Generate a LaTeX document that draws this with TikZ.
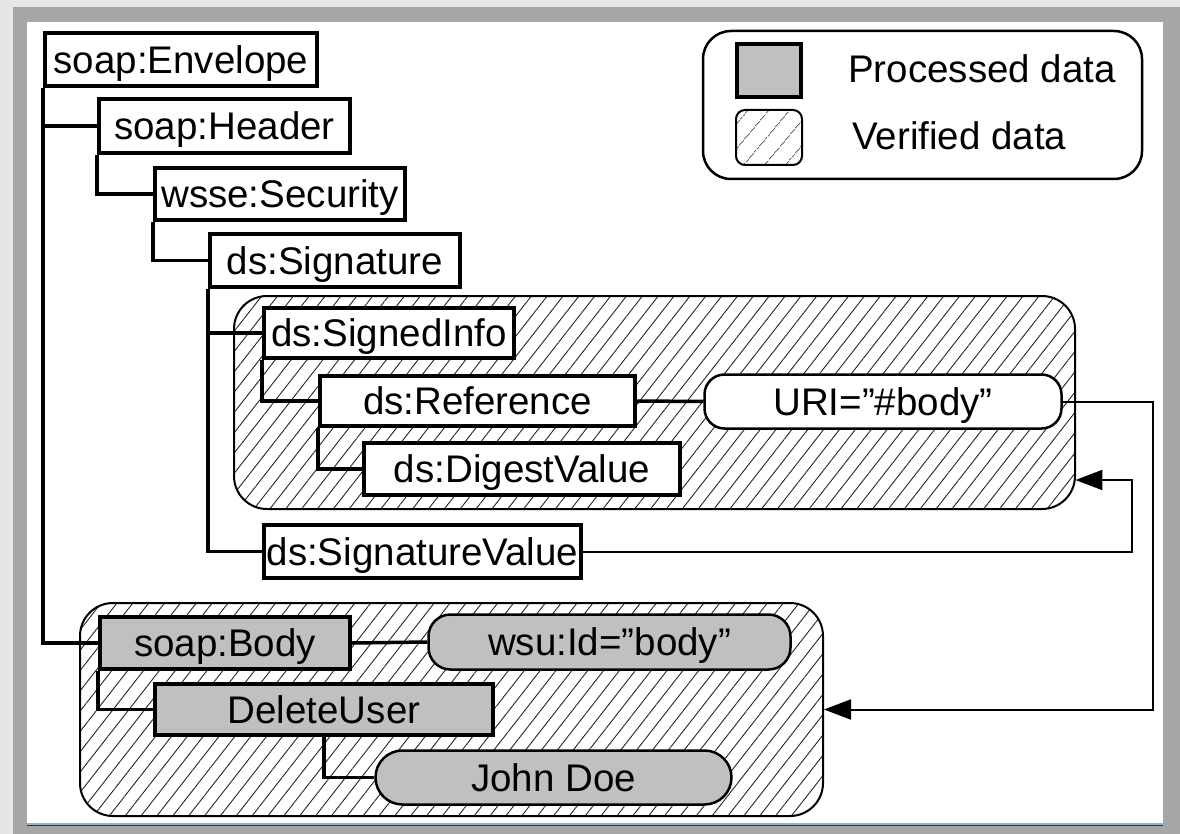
\documentclass[tikz,border=0pt]{standalone}
\usepackage{fontspec}
\setmainfont{Liberation Sans}
\usetikzlibrary{arrows.meta,patterns.meta}
\definecolor{procgray}{HTML}{C0C0C0}
\definecolor{framedark}{HTML}{A6A6A6}
\definecolor{framelight}{HTML}{E6E6E6}
\definecolor{rulerblue}{HTML}{8DB4D6}

\begin{document}
\begin{tikzpicture}[x=1pt,y=-1pt,
  txt/.style={font=\fontsize{38.5}{42}\selectfont},
  lbl/.style={txt, text height=27.5pt, text depth=0pt},
  elem/.style={draw, line width=4pt, fill=white, inner sep=0pt, lbl},
  proc/.style={elem, fill=procgray},
  attr/.style={draw, line width=2.5pt, rounded corners=20pt, fill=white, inner sep=0pt, lbl},
  zone/.style={draw, line width=2pt, rounded corners=33pt, inner sep=0pt,
    pattern={Lines[angle=52,distance=12.5pt,line width=0.9pt]}, pattern color=black!85},
  tree/.style={line width=3.5pt},
  link/.style={line width=2pt, -{Triangle[length=27pt,width=20pt]}},
]
\useasboundingbox (0,0) rectangle (1180,834);

% page frame
\fill[framelight] (0,0) rectangle (1180,834);
\fill[framedark] (13,7) rectangle (1180,834);
\fill[white] (27,22) rectangle (1163,823);
\draw[rulerblue, line width=1.5pt] (27,823.8) -- (1163,823.8);
\draw[black!80, line width=1.2pt] (27,825.6) -- (1163,825.6);

% legend
\node[draw, line width=2.5pt, rounded corners=28pt, minimum width=439pt, minimum height=148pt] (leg) at (922.5,105) {};
\node[draw, line width=4pt, fill=procgray, inner sep=0pt, minimum width=64pt, minimum height=53pt] (legproc) at (769,70.5) {};
\node[draw, line width=2pt, rounded corners=9pt, inner sep=0pt, minimum width=66pt, minimum height=55pt,
  pattern={Lines[angle=50,distance=17pt,line width=0.8pt]}, pattern color=black!70] (legver) at (769,137.5) {};
\node[txt, anchor=base west, inner sep=0pt] (legproctxt) at (848,83) {Processed data};
\node[txt, anchor=base west, inner sep=0pt] (legvertxt) at (852,150) {Verified data};

% verified regions
\node[zone, minimum width=841pt, minimum height=213pt] (sreg) at (654.5,402.5) {};
\node[zone, minimum width=743pt, minimum height=213pt] (breg) at (451.5,709.5) {};

% header elements
\node[elem, minimum width=272pt, minimum height=53pt] (env) at (181,59.5) {soap:Envelope};
\node[elem, minimum width=251pt, minimum height=54pt] (hdr) at (224.5,126) {soap:Header};
\node[elem, minimum width=250pt, minimum height=52pt] (sec) at (280,194) {wsse:Security};
\node[elem, minimum width=250pt, minimum height=53pt] (sig) at (335,260.5) {ds:Signature};
\node[elem, minimum width=250pt, minimum height=50pt] (sinfo) at (389,333) {ds:SignedInfo};
\node[elem, minimum width=315pt, minimum height=50pt] (ref) at (477.5,401) {ds:Reference};
\node[elem, minimum width=316pt, minimum height=52pt] (dig) at (522,469) {ds:DigestValue};
\node[elem, minimum width=317pt, minimum height=53pt] (sigval) at (422.5,551.5) {ds:SignatureValue};
\node[attr, minimum width=357pt, minimum height=54pt] (uri) at (883,401.5) {URI=”\#body”};

% body elements
\node[proc, minimum width=250pt, minimum height=52pt] (body) at (225,643) {soap:Body};
\node[proc, minimum width=338pt, minimum height=51pt] (del) at (324,709.5) {DeleteUser};
\node[attr, fill=procgray, rounded corners=22pt, minimum width=362pt, minimum height=55pt] (wsu) at (609.5,642) {wsu:Id=”body”};
\node[attr, fill=procgray, rounded corners=27pt, minimum width=356pt, minimum height=54pt] (john) at (553.5,777.5) {John Doe};

% tree structure
\draw[tree] (env.south west) |- (hdr.west);
\draw[tree] (env.south west) |- (body.west);
\draw[tree] (hdr.south west) |- (sec.west);
\draw[tree] (sec.south west) |- (sig.west);
\draw[tree] (sig.south west) |- (sinfo.west);
\draw[tree] (sig.south west) |- (sigval.west);
\draw[tree] (sinfo.south west) |- (ref.west);
\draw[tree] (ref.south west) |- (dig.west);
\draw[tree] (ref.east) -- (uri.west);
\draw[tree] (body.south west) |- (del.west);
\draw[tree] (body.east) -- (wsu.west);
\draw[tree] (del.south) |- (john.west);

% reference links
\coordinate (routeA) at (1153,402);
\coordinate (routeB) at (1132,480);
\draw[link] (uri.east) -- (uri.east -| routeA) |- (breg.east);
\draw[link] (sigval.east) -| (routeB) -- (routeB -| sreg.east);
\end{tikzpicture}
\end{document}
